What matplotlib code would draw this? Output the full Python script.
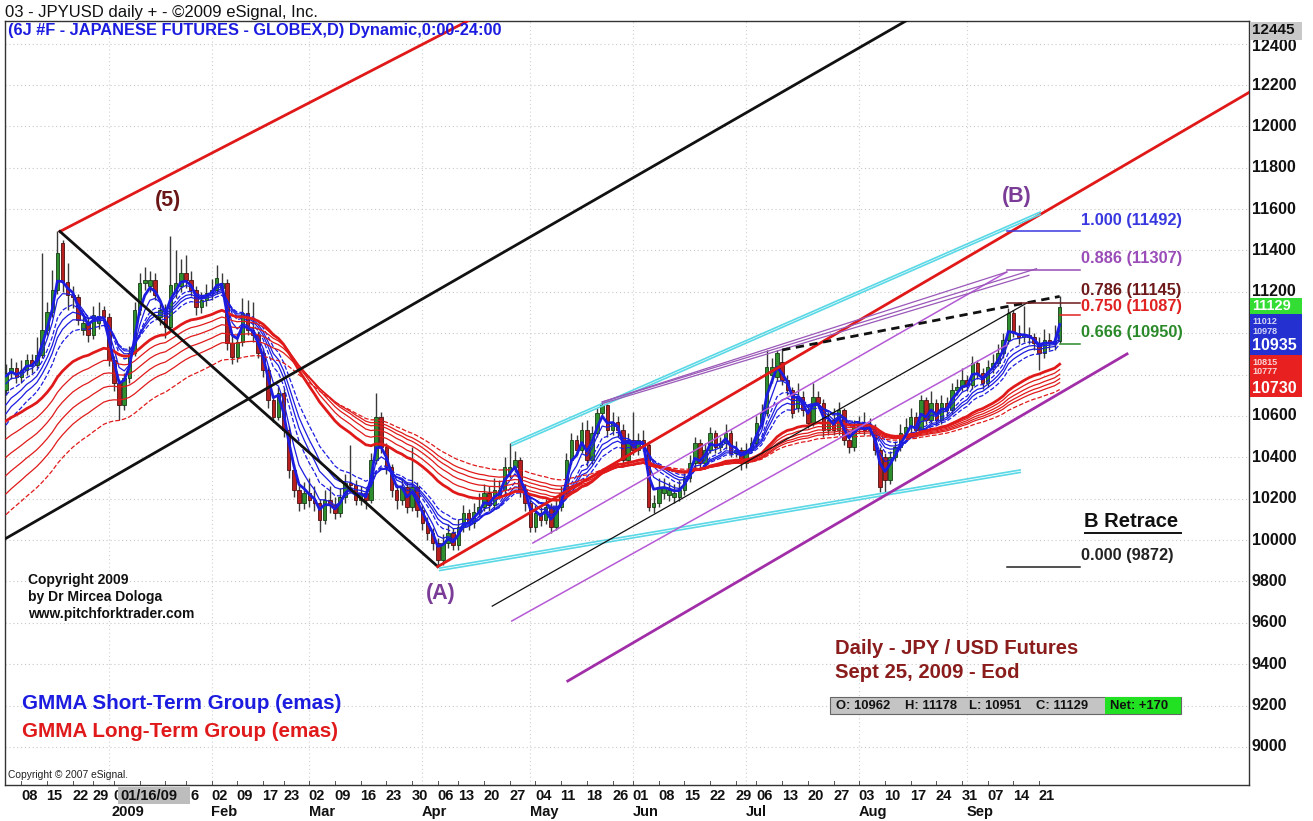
import numpy as np
import pandas as pd
import matplotlib
matplotlib.use('Agg')
import matplotlib.pyplot as plt
from matplotlib.patches import Rectangle
import matplotlib.transforms as mtransforms

plt.rcParams['font.family'] = ['Liberation Sans', 'DejaVu Sans']

# ---------------- data ----------------
holidays = ['2008-12-25', '2009-01-01', '2009-01-19', '2009-02-16',
            '2009-04-10', '2009-05-25', '2009-07-03']
dates = pd.bdate_range('2008-12-03', '2009-09-25')
dates = dates[~dates.isin(pd.to_datetime(holidays))]

opens = [
    10726, 10808, 10832,
    10788, 10822, 10871, 10846, 10895,
    11016, 11103, 11209, 11436, 11248,
    11185, 11175, 11016, 11050,
    10992, 11050, 11110, 11079,
    10871, 10760, 10653, 10784, 10905,
    11112, 11243, 11230, 11257, 11080,
    11112, 11030, 11200, 11230,
    11291, 11257, 11209, 11127, 11161,
    11194, 11209, 11220, 11243, 10953,
    10885, 10958, 11098, 11016, 10992,
    10904, 10822, 10677, 10595,
    10711, 10532, 10339, 10242, 10179,
    10228, 10194, 10179, 10097, 10194,
    10170, 10131, 10208, 10276, 10266,
    10194, 10228, 10194, 10387, 10595,
    10450, 10353, 10242, 10194, 10257,
    10160, 10257, 10146, 10083, 10034,
    9986, 9904, 9986, 10034,
    9976, 10063, 10131, 10083, 10136,
    10160, 10228, 10170, 10210, 10242,
    10330, 10353, 10387, 10242, 10179,
    10063, 10131, 10097, 10160, 10063,
    10160, 10228, 10387, 10484, 10436,
    10533, 10387, 10518, 10614, 10653,
    10533, 10571, 10533, 10387,
    10484, 10436, 10484, 10460, 10160,
    10179, 10230, 10220, 10210, 10210,
    10242, 10300, 10373, 10469, 10373,
    10436, 10518, 10450, 10469, 10518,
    10421, 10436, 10373, 10436,
    10469, 10566, 10614, 10800, 10790,
    10860, 10774, 10726, 10640, 10692,
    10629, 10566, 10692, 10663, 10533,
    10581, 10533, 10629, 10484, 10450,
    10547, 10566, 10533, 10547, 10436,
    10400, 10291, 10402, 10450, 10518,
    10547, 10595, 10533, 10677, 10581,
    10663, 10581, 10663, 10629, 10726,
    10740, 10774, 10750, 10856, 10808,
    10760, 10837, 10856, 10905, 10967,
    11098, 11001, 10982, 10992, 10982,
    10953, 10905, 10967, 10953, 10962,
]
highs = [
    10850, 10880, 10860,
    10870, 10900, 10900, 10980, 11388,
    11150, 11306, 11492, 11450, 11340,
    11230, 11190, 11080, 11080,
    11130, 11150, 11130, 11100,
    10890, 10780, 10810, 10940, 11150,
    11290, 11320, 11300, 11290, 11160,
    11140, 11470, 11400, 11360,
    11380, 11300, 11230, 11200, 11240,
    11260, 11330, 11290, 11260, 10990,
    11000, 11170, 11160, 11150, 11010,
    10930, 10840, 10700, 10740,
    10730, 10550, 10370, 10270, 10280,
    10300, 10260, 10200, 10240, 10260,
    10210, 10250, 10320, 10460, 10290,
    10260, 10250, 10420, 10711, 10620,
    10470, 10370, 10270, 10300, 10280,
    10450, 10280, 10170, 10110, 10060,
    10010, 10030, 10080, 10060,
    10100, 10170, 10150, 10180, 10230,
    10270, 10260, 10300, 10290, 10400,
    10470, 10430, 10400, 10270, 10200,
    10170, 10160, 10200, 10180, 10200,
    10260, 10420, 10520, 10510, 10570,
    10581, 10550, 10640, 10668, 10660,
    10620, 10600, 10560, 10520,
    10620, 10520, 10530, 10480, 10220,
    10300, 10300, 10280, 10270, 10290,
    10340, 10410, 10500, 10490, 10470,
    10546, 10530, 10500, 10560, 10530,
    10480, 10450, 10470, 10500,
    10600, 10660, 10919, 10880, 10919,
    10919, 10800, 10740, 10760, 10720,
    10650, 10760, 10720, 10680, 10620,
    10640, 10670, 10640, 10520, 10580,
    10600, 10620, 10590, 10560, 10450,
    10420, 10430, 10480, 10560, 10590,
    10640, 10620, 10700, 10690, 10720,
    10680, 10700, 10690, 10760, 10780,
    10830, 10800, 10890, 10870, 10830,
    10870, 10900, 10950, 11000, 11122,
    11110, 11040, 11131, 11030, 11000,
    10980, 11020, 11000, 11040, 11178,
]
lows = [
    10700, 10780, 10760,
    10760, 10800, 10810, 10830, 10880,
    10990, 11080, 11190, 11200, 11112,
    11120, 11040, 10990, 10960,
    10970, 11020, 11050, 10840,
    10720, 10581, 10630, 10760, 10890,
    11090, 11210, 11200, 11160, 11040,
    10977, 11010, 11170, 11200,
    11220, 11180, 11090, 11100, 11130,
    11160, 11190, 11200, 10920, 10850,
    10860, 10940, 10990, 10960, 10880,
    10790, 10640, 10570, 10580,
    10500, 10300, 10210, 10140, 10150,
    10160, 10140, 10039, 10080, 10130,
    10100, 10110, 10180, 10230, 10170,
    10170, 10150, 10180, 10370, 10420,
    10320, 10210, 10150, 10170, 10130,
    10140, 10110, 10050, 10000, 9950,
    9872, 9880, 9960, 9950,
    9950, 10040, 10050, 10060, 10120,
    10140, 10140, 10150, 10200, 10220,
    10300, 10330, 10210, 10140, 10040,
    10040, 10070, 10080, 10034, 10050,
    10140, 10210, 10370, 10410, 10420,
    10360, 10370, 10500, 10590, 10500,
    10510, 10500, 10360, 10370,
    10410, 10410, 10430, 10140, 10130,
    10160, 10200, 10190, 10180, 10190,
    10220, 10280, 10350, 10350, 10350,
    10420, 10420, 10430, 10440, 10400,
    10400, 10340, 10350, 10420,
    10450, 10540, 10600, 10760, 10770,
    10750, 10700, 10590, 10620, 10600,
    10540, 10550, 10640, 10500, 10510,
    10510, 10510, 10460, 10420, 10430,
    10520, 10510, 10510, 10410, 10233,
    10233, 10270, 10380, 10430, 10500,
    10520, 10500, 10520, 10560, 10560,
    10560, 10560, 10600, 10610, 10700,
    10720, 10720, 10730, 10780, 10730,
    10740, 10810, 10840, 10880, 10950,
    10980, 10950, 10960, 10950, 10920,
    10822, 10880, 10920, 10920, 10951,
]
closes = [
    10808, 10832, 10788,
    10822, 10871, 10846, 10895, 11016,
    11103, 11209, 11388, 11248, 11185,
    11175, 11064, 11050, 10992,
    11088, 11074, 11079, 10871,
    10760, 10653, 10784, 10905, 11112,
    11243, 11257, 11257, 11185, 11112,
    11030, 11233, 11243, 11291,
    11257, 11209, 11127, 11161, 11194,
    11209, 11267, 11243, 10953, 10885,
    10958, 11098, 11016, 10992, 10904,
    10822, 10677, 10595, 10711,
    10532, 10339, 10242, 10179, 10228,
    10194, 10179, 10097, 10194, 10170,
    10131, 10208, 10276, 10266, 10194,
    10228, 10194, 10387, 10595, 10450,
    10353, 10242, 10194, 10257, 10160,
    10257, 10146, 10083, 10034, 9986,
    9904, 9986, 10034, 9976,
    10063, 10131, 10083, 10136, 10160,
    10228, 10170, 10242, 10242, 10353,
    10353, 10387, 10242, 10179, 10063,
    10131, 10097, 10160, 10063, 10160,
    10228, 10387, 10484, 10436, 10533,
    10387, 10518, 10614, 10653, 10533,
    10571, 10533, 10387, 10484,
    10436, 10484, 10460, 10160, 10179,
    10257, 10257, 10242, 10228, 10242,
    10300, 10373, 10469, 10373, 10436,
    10518, 10450, 10469, 10518, 10421,
    10436, 10373, 10436, 10469,
    10566, 10614, 10837, 10837, 10905,
    10774, 10726, 10614, 10692, 10629,
    10566, 10692, 10663, 10533, 10581,
    10533, 10629, 10484, 10450, 10547,
    10566, 10533, 10547, 10436, 10257,
    10291, 10402, 10450, 10518, 10547,
    10595, 10533, 10677, 10581, 10663,
    10581, 10663, 10629, 10726, 10740,
    10774, 10750, 10856, 10808, 10760,
    10837, 10856, 10905, 10967, 11098,
    11001, 10982, 10992, 10982, 10953,
    10905, 10967, 10953, 10959, 11129,
]

# GMMA groups (EMA periods and their starting values read at the left edge)
short_periods = [3, 5, 8, 10, 12, 15]
short_seeds = [10780, 10730, 10670, 10620, 10575, 10520]
long_periods = [30, 35, 40, 45, 50, 60]
long_seeds = [10560, 10470, 10380, 10290, 10200, 10100]

# Pivots (bar index, price)
pivot_5 = (10, 11492)
pivot_A = (84, 9872)

# Hand-drawn tool lines: (x0, y0, x1, y1) in (bar index, price)
red_upper_line = (10.5, 11492, 100, 12640)
black_fork_leg = (10.5, 11492, 84, 9872)
black_long_line = (-2, 9980, 180, 12580)
red_median_line = (84, 9872, 245, 12210)
cyan_upper = (98.4, 10469, 201.2, 11586)
cyan_lower = (84.4, 9865, 197.3, 10339)
black_thin = (94.6, 9681, 198.6, 11146)
purple_thin_upper = (102.5, 9986, 194.7, 11296)
purple_thin_lower = (98.4, 9609, 194.7, 10943)
purple_thick = (109.3, 9319, 218.1, 10900)
purple_fan = [(116, 10668, 194.7, 11296), (116, 10668, 200.5, 11312), (116, 10660, 199.0, 11280)]
dashed_line = (151, 10919, 205, 11178)

fib_ratios = ['1.000', '0.886', '0.786', '0.750', '0.666', '0.000']
fib_prices = [11492, 11307, 11145, 11087, 10950, 9872]

# ---------------- layout helpers ----------------
W, H = 1313, 821
PX_PER_BAR = 5.14
def bx(px):
    return (px - 6) / PX_PER_BAR
def pp(py):
    return 12200 - (py - 85) * 4.834
def fx(px):
    return px / W
def fy(py):
    return 1 - py / H

O = np.array(opens, float); Hh = np.array(highs, float)
L = np.array(lows, float); C = np.array(closes, float)
n = len(C)
x = np.arange(n)

fig = plt.figure(figsize=(W / 100, H / 100), dpi=100)
ax = fig.add_axes([fx(5), fy(785), (1249 - 5) / W, (785 - 21) / H])
ax.set_xlim(bx(5), bx(1249))
ax.set_ylim(pp(785), pp(21))
ax.set_xticks([]); ax.set_yticks([])
for s in ax.spines.values():
    s.set_color('#333333'); s.set_linewidth(1.0)

# grid
for lev in range(9000, 12600, 200):
    ax.axhline(lev, color='#c8c8c8', lw=0.8, ls=(0, (1, 2.5)), zorder=0)
month_first = [i for i in range(1, n) if dates[i].month != dates[i - 1].month]
for i in month_first:
    ax.axvline(i, color='#d2d2d2', lw=0.8, ls=(0, (1, 2.5)), zorder=0)

# candles
up = C >= O
bot = np.minimum(O, C)
hgt = np.maximum(np.abs(C - O), 8)
ax.vlines(x, L, Hh, color='#3a3a3a', lw=1.0, zorder=2)
ax.bar(x[up], hgt[up], bottom=bot[up], width=0.68, color='#2f8f2f',
       edgecolor='#153d15', lw=0.6, zorder=3)
ax.bar(x[~up], hgt[~up], bottom=bot[~up], width=0.68, color='#b81f1f',
       edgecolor='#4d1010', lw=0.6, zorder=3)

# GMMA
def ema(vals, period, seed):
    a = 2.0 / (period + 1)
    out = np.empty(len(vals)); e = seed
    for k, v in enumerate(vals):
        e = e + a * (v - e); out[k] = e
    return out

short_styles = ['-', '-', '--', '-', '-', '--']
for k, (p, s) in enumerate(zip(short_periods, short_seeds)):
    ax.plot(x, ema(C, p, s), color='#1c1ce0', lw=2.0 if k == 0 else 0.9,
            ls=short_styles[k], zorder=5 if k == 0 else 4)
long_styles = ['-', '-', '-', '-', '-', '--']
for k, (p, s) in enumerate(zip(long_periods, long_seeds)):
    ax.plot(x, ema(C, p, s), color='#e01a1a', lw=2.0 if k == 0 else 0.9,
            ls=long_styles[k], zorder=4)

# tool lines
def seg(t, **kw):
    ax.plot([t[0], t[2]], [t[1], t[3]], **kw)

seg(red_upper_line, color='#e01818', lw=2.0, zorder=6)
seg(black_fork_leg, color='#111111', lw=2.0, zorder=6)
seg(black_long_line, color='#111111', lw=2.0, zorder=6)
seg(red_median_line, color='#e01818', lw=2.0, zorder=6)
for t in (cyan_upper, cyan_lower):
    seg(t, color='#5ad8e6', lw=1.2, zorder=6)
    seg((t[0], t[1] - 12, t[2], t[3] - 12), color='#5ad8e6', lw=1.2, zorder=6)
seg(black_thin, color='#111111', lw=0.9, zorder=6)
seg(purple_thin_upper, color='#b55ad6', lw=1.1, zorder=6)
seg(purple_thin_lower, color='#b55ad6', lw=1.1, zorder=6)
seg(purple_thick, color='#a12ea8', lw=2.0, zorder=6)
for t in purple_fan:
    seg(t, color='#9a58b8', lw=0.9, zorder=6)
seg(dashed_line, color='#111111', lw=2.0, ls=(0, (3, 2)), zorder=7)

# fib retracement lines + labels
fib_colors = ['#3838e0', '#9a4cb8', '#6e1a1a', '#e02222', '#2a8a2a', '#222222']
fib_x0 = [1007, 1007, 1007, 1060, 1060, 1007]
fib_label_dy = [52, 52, 62, 40, 52, 52]   # label offset above its line
for r, pval, col, x0, dy in zip(fib_ratios, fib_prices, fib_colors, fib_x0, fib_label_dy):
    ax.plot([bx(x0), bx(1080)], [pval, pval], color=col, lw=1.1, zorder=7)
    ax.text(bx(1081), pval + dy, f'{r} ({pval})', color=col, fontsize=11.8,
            fontweight='bold', ha='left', va='center', zorder=8)
ax.text(bx(1084), pp(521), 'B Retrace', color='#111111', fontsize=14.5,
        fontweight='bold', ha='left', va='center')
ax.plot([bx(1085), bx(1181)], [pp(533), pp(533)], color='#111111', lw=1.4)

# pivot labels
ax.text(bx(168), pp(200), '(5)', color='#6b1616', fontsize=15.5, fontweight='bold',
        ha='center', va='center')
ax.text(bx(441), pp(593), '(A)', color='#7a3c96', fontsize=15.5, fontweight='bold',
        ha='center', va='center')
ax.text(bx(1017), pp(196), '(B)', color='#7a3c96', fontsize=15.5, fontweight='bold',
        ha='center', va='center')

# in-chart texts
for k, t in enumerate(['Copyright 2009', 'by Dr Mircea Dologa', 'www.pitchforktrader.com']):
    fig.text(fx(28), fy(580 + 17 * k), t, fontsize=10, fontweight='bold',
             color='#111111', va='center')
fig.text(fx(22), fy(703), 'GMMA Short-Term Group (emas)', fontsize=14.9,
         fontweight='bold', color='#1c1ce0', va='center')
fig.text(fx(22), fy(731), 'GMMA Long-Term Group (emas)', fontsize=14.9,
         fontweight='bold', color='#e01a1a', va='center')
fig.text(fx(8), fy(775), 'Copyright \u00a9 2007 eSignal.', fontsize=7.4,
         color='#222222', va='center')
fig.text(fx(835), fy(648), 'Daily - JPY / USD Futures', fontsize=14.6,
         fontweight='bold', color='#8a1c1c', va='center')
fig.text(fx(835), fy(673), 'Sept 25, 2009 - Eod', fontsize=14.6,
         fontweight='bold', color='#8a1c1c', va='center')

# info box
fig.patches.append(Rectangle((fx(830), fy(714)), (1181 - 830) / W, 17 / H,
                             transform=fig.transFigure, facecolor='#c4c4c4',
                             edgecolor='#666666', lw=0.8, zorder=5))
fig.patches.append(Rectangle((fx(1105), fy(714)), (1181 - 1105) / W, 17 / H,
                             transform=fig.transFigure, facecolor='#22e022',
                             edgecolor='none', zorder=6))
net = closes[-1] - closes[-2]
info = [(836, f'O: {opens[-1]}'), (905, f'H: {highs[-1]}'),
        (969, f'L: {lows[-1]}'), (1036, f'C: {closes[-1]}'),
        (1110, f'Net: {net:+d}')]
for px, t in info:
    fig.text(fx(px), fy(705.5), t, fontsize=9.4, fontweight='bold',
             color='#111111', va='center', zorder=7)

# titles
fig.text(fx(5), fy(12), '03 - JPYUSD daily + - \u00a92009 eSignal, Inc.',
         fontsize=12, color='#111111', va='center')
fig.text(fx(8), fy(31), '(6J #F - JAPANESE FUTURES - GLOBEX,D) Dynamic,0:00-24:00',
         fontsize=11.8, fontweight='bold', color='#1c1ce0', va='center')

# right price scale
def ppy(p):
    return 85 + (12200 - p) / 4.834
flag_top, flag_bottom = 298, 397      # pixel span covered by the value flags
for lev in range(9000, 12600, 200):
    yy = ppy(lev)
    if flag_top - 2 < yy < flag_bottom + 6:
        continue                      # hidden behind the flags in the original
    if lev == 12400:
        yy += 3                       # mostly hidden below the 12445 flag
    fig.text(fx(1252), fy(yy), str(lev), fontsize=11.5, fontweight='bold',
             color='#111111', va='center', ha='left')
fig.patches.append(Rectangle((fx(1250), fy(40)), 52 / W, 18 / H,
                             transform=fig.transFigure, facecolor='#c8c8c8',
                             edgecolor='none', zorder=5))
fig.text(fx(1252), fy(30), '12445', fontsize=11, fontweight='bold',
         color='#111111', va='center', zorder=6)
# last value / GMMA value flags
fig.patches.append(Rectangle((fx(1250), fy(314)), 52 / W, 16 / H,
                             transform=fig.transFigure, facecolor='#33dd33',
                             edgecolor='none', zorder=5))
fig.text(fx(1252), fy(306), str(closes[-1]), fontsize=10.5, fontweight='bold',
         color='white', va='center', zorder=6)
fig.patches.append(Rectangle((fx(1250), fy(355)), 52 / W, 41 / H,
                             transform=fig.transFigure, facecolor='#2430d0',
                             edgecolor='none', zorder=5))
for py, t in [(321, '11012'), (331, '10978')]:
    fig.text(fx(1252), fy(py), t, fontsize=6.5, fontweight='bold', color='white',
             va='center', zorder=6, alpha=0.8)
fig.text(fx(1252), fy(345), '10935', fontsize=11.5, fontweight='bold',
         color='white', va='center', zorder=6)
fig.patches.append(Rectangle((fx(1250), fy(397)), 52 / W, 42 / H,
                             transform=fig.transFigure, facecolor='#e82020',
                             edgecolor='none', zorder=5))
for py, t in [(362, '10815'), (372, '10777')]:
    fig.text(fx(1252), fy(py), t, fontsize=6.5, fontweight='bold', color='white',
             va='center', zorder=6, alpha=0.8)
fig.text(fx(1252), fy(388), '10730', fontsize=11.5, fontweight='bold',
         color='white', va='center', zorder=6)

# date axis
trans = mtransforms.blended_transform_factory(ax.transData, fig.transFigure)
week_first = [3] + [i for i in range(4, n) if dates[i].weekday() < dates[i - 1].weekday()]
box_l, box_r = bx(118), bx(190)
for i in week_first:
    ax.plot([i, i], [pp(785), pp(781)], color='#555555', lw=0.7, clip_on=False)
    lab = dates[i].strftime('%d')
    xi = i - 0.1
    if xi >= box_r or xi + 2.6 <= box_l:
        pass
    elif xi < box_l:
        lab = lab[0]          # partly hidden behind the cursor date box
    elif xi + 2.6 > box_r + 0.5 and dates[i].day == 26:
        lab = lab[1]; xi = box_r + 0.05
    else:
        continue
    ax.text(xi, fy(796), lab, transform=trans, fontsize=10.5, fontweight='bold',
            color='#111111', ha='left', va='center', clip_on=False)
for i in month_first:
    lab = '2009' if dates[i].month == 1 else dates[i].strftime('%b')
    ax.text(i + (0.5 if lab == '2009' else -0.1), fy(812), lab, transform=trans,
            fontsize=10.5, fontweight='bold', color='#111111', ha='left',
            va='center', clip_on=False)
fig.patches.append(Rectangle((fx(118), fy(804)), 72 / W, 17 / H,
                             transform=fig.transFigure, facecolor='#bdbdbd',
                             edgecolor='none', zorder=5))
fig.text(fx(120), fy(796), '01/16/09', fontsize=10.5, fontweight='bold',
         color='#111111', va='center', zorder=6)

fig.savefig('out.png', dpi=100)
